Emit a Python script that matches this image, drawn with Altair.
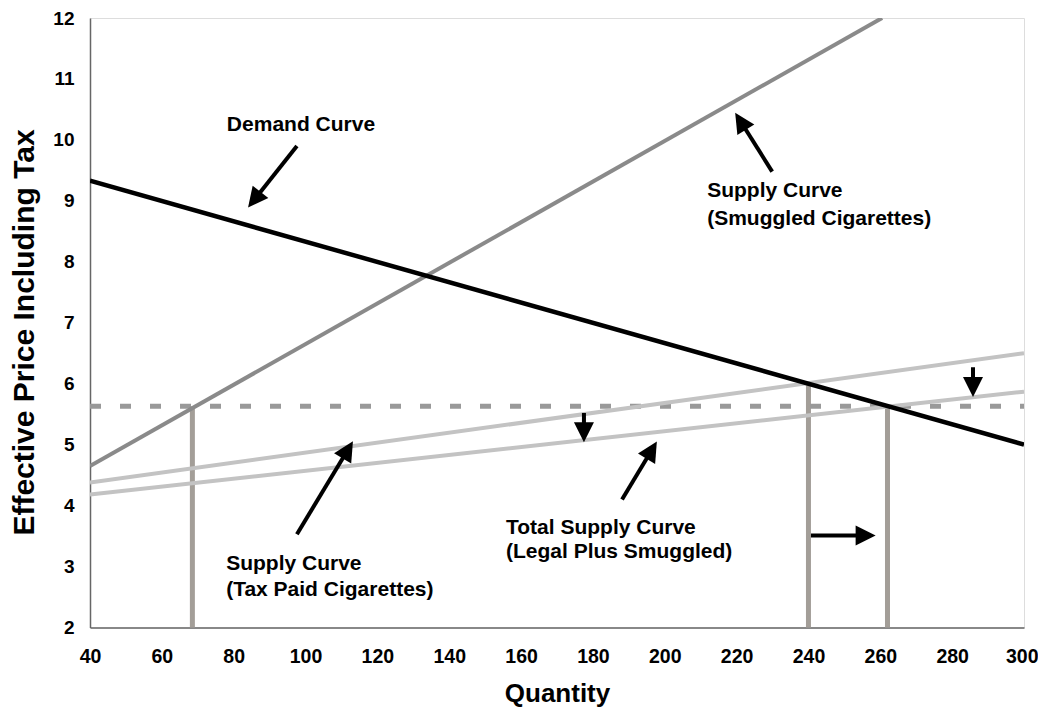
import math
import altair as alt
import pandas as pd

# ---------------- data ----------------
x_ticks = [40, 60, 80, 100, 120, 140, 160, 180, 200, 220, 240, 260, 280, 300]
y_ticks = [2, 3, 4, 5, 6, 7, 8, 9, 10, 11, 12]

demand_q = [40, 300]
demand_p = [9.33, 5.0]
smuggled_q = [40, 260.5]
smuggled_p = [4.65, 12.0]
taxpaid_q = [40, 300]
taxpaid_p = [4.38, 6.5]
total_q = [40, 300]
total_p = [4.18, 5.87]
dash_q = [40, 300]
dash_p = [5.63, 5.63]
equil_q = [68.5, 240, 262]
equil_p = [5.63, 6.0, 5.63]

label_text = ["Demand Curve", "Supply Curve", "(Smuggled Cigarettes)",
              "Supply Curve", "(Tax Paid Cigarettes)",
              "Total Supply Curve", "(Legal Plus Smuggled)"]
label_q = [78.1, 211.8, 211.8, 77.9, 77.9, 155.8, 155.8]
label_p = [10.24, 9.155, 8.71, 3.04, 2.62, 3.64, 3.235]

arrow_tail_q = [97.6, 229.9, 97.6, 188.1, 177.5, 285.8, 240.7]
arrow_tail_p = [9.90, 9.48, 3.53, 4.10, 5.52, 6.27, 3.51]
arrow_tip_q = [84.0, 219.6, 113.2, 197.8, 177.5, 285.8, 258.7]
arrow_tip_p = [8.89, 10.445, 5.055, 5.05, 5.04, 5.78, 3.51]

# ---------------- layout ----------------
W, H = 934, 609.5
QMIN, QMAX, PMIN, PMAX = 40, 300, 2, 12
PXQ = W / (QMAX - QMIN)
PXP = H / (PMAX - PMIN)
HEAD = 20

FONT = "Liberation Sans"

last_x = x_ticks[-1]
xaxis = alt.Axis(values=x_ticks, title="Quantity", grid=False, ticks=False, tickSize=0,
                 labelFlush=False, labelOverlap=False,
                 labelAlign={"condition": {"test": f"datum.value == {last_x}", "value": "right"},
                             "value": "center"},
                 labelOffset={"condition": {"test": f"datum.value == {last_x}", "value": 14},
                              "value": 0},
                 labelPadding=20, labelFontSize=19.5, labelFont=FONT, labelFontWeight="bold",
                 labelColor="#000", titleFontSize=26, titleFont=FONT, titleFontWeight="bold",
                 titleColor="#000", titleY=74, titleBaseline="alphabetic",
                 domainColor="#666", domainWidth=1.5)
yaxis = alt.Axis(values=y_ticks, title="Effective Price Including Tax", grid=False, ticks=False,
                 tickSize=0, labelFlush=False, labelOverlap=False, labelPadding=16,
                 labelFontSize=19, labelFont=FONT,
                 labelFontWeight="bold", labelColor="#000", titleFontSize=30, titleFont=FONT,
                 titleFontWeight="bold", titleColor="#000", titleAngle=270, titleX=-57,
                 titleY=314, titleAlign="center", titleBaseline="alphabetic",
                 domainColor="#666", domainWidth=1.5)

xs = alt.Scale(domain=[QMIN, QMAX], nice=False, zero=False)
ys = alt.Scale(domain=[PMIN, PMAX], nice=False, zero=False)


def X(f="q"):
    return alt.X(f"{f}:Q", scale=xs, axis=xaxis)


def Y(f="p"):
    return alt.Y(f"{f}:Q", scale=ys, axis=yaxis)


def line_layer(qs, ps, color, width, dash=None):
    df = pd.DataFrame({"q": qs, "p": ps})
    kw = dict(color=color, strokeWidth=width, clip=True)
    if dash:
        kw["strokeDash"] = dash
    return alt.Chart(df).mark_line(**kw).encode(x=X(), y=Y())


# vertical equilibrium lines
eq_df = pd.DataFrame({"q": equil_q, "p": [PMIN] * len(equil_q), "p2": equil_p})
verticals = alt.Chart(eq_df).mark_rule(color="#a39e98", strokeWidth=5).encode(
    x=X(), y=Y(), y2=alt.Y2("p2"))

dashed = line_layer(dash_q, dash_p, "#999999", 5, [11, 19])
taxpaid = line_layer(taxpaid_q, taxpaid_p, "#c3c3c3", 4)
total = line_layer(total_q, total_p, "#c3c3c3", 4)
smuggled = line_layer(smuggled_q, smuggled_p, "#8a8a8a", 4)
demand = line_layer(demand_q, demand_p, "#000000", 4.5)

# arrows
rows = []
for tq, tp, hq, hp in zip(arrow_tail_q, arrow_tail_p, arrow_tip_q, arrow_tip_p):
    dx = (hq - tq) * PXQ
    dy = -(hp - tp) * PXP
    ln = math.hypot(dx, dy)
    ux, uy = dx / ln, dy / ln
    endq = hq - (HEAD - 2) * ux / PXQ
    endp = hp + (HEAD - 2) * uy / PXP
    ang = math.degrees(math.atan2(dx, -dy)) % 360
    rows.append({"q": tq, "p": tp, "q2": endq, "p2": endp, "hq": hq, "hp": hp, "ang": ang})
arr_df = pd.DataFrame(rows)

shafts = alt.Chart(arr_df).mark_rule(color="#000", strokeWidth=4).encode(
    x=X(), y=Y(), x2=alt.X2("q2"), y2=alt.Y2("p2"))
heads = alt.Chart(arr_df).mark_point(
    shape="M0,0L-0.5,1L0.5,1Z", filled=True, color="#000", opacity=1, size=HEAD * HEAD * 4,
    strokeWidth=0).encode(x=X("hq"), y=Y("hp"), angle=alt.Angle("ang:Q", scale=None))

lab_df = pd.DataFrame({"q": label_q, "p": label_p, "t": label_text})
labels = alt.Chart(lab_df).mark_text(
    align="left", baseline="middle", font=FONT, fontWeight="bold", fontSize=21, color="#000"
).encode(x=X(), y=Y(), text="t:N")

chart = alt.layer(verticals, dashed, taxpaid, total, smuggled, demand, shafts, heads, labels).properties(
    width=W, height=H,
    autosize=alt.AutoSizeParams(type="none"),
    padding={"left": 82, "top": 10, "right": 14, "bottom": 82},
).configure_view(stroke="#000", strokeWidth=1.5).configure(background="white")

chart.save("out.html", embed_options={"renderer": "svg", "actions": False})
